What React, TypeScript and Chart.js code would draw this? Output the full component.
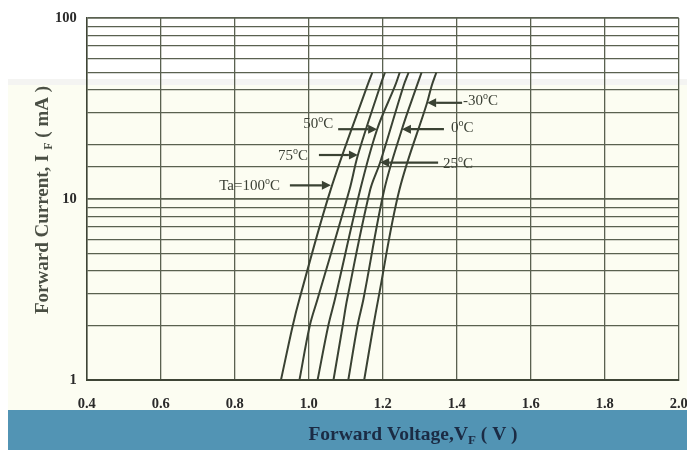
import React, { useEffect, useRef } from "react";
import { Chart, registerables } from "chart.js";

Chart.register(...registerables);

// ---- data ----
const X_MIN = 0.4;
const X_MAX = 2.0;
const X_STEP = 0.2;
const Y_MIN = 1;
const Y_MAX = 100;
const Y_LABELLED = [1, 10, 100];

const CURVE_NAMES = ["Ta=100", "75", "50", "25", "0", "-30"];

const I_T100 = [1, 2, 2.8, 11.2, 42, 50];
const V_T100 = [0.925, 0.957, 0.975, 1.059, 1.158, 1.172];

const I_T75 = [1, 2, 2.8, 11.2, 17.5, 42, 50];
const V_T75 = [0.975, 1.003, 1.024, 1.11, 1.133, 1.193, 1.206];

const I_T50 = [1, 2, 2.8, 11.2, 24.3, 42, 50];
const V_T50 = [1.024, 1.053, 1.071, 1.139, 1.185, 1.233, 1.246];

const I_T25 = [1, 2, 2.8, 11.2, 15.9, 42, 50];
const V_T25 = [1.067, 1.092, 1.104, 1.166, 1.193, 1.256, 1.27];

const I_T0 = [1, 2, 2.8, 11.2, 24.3, 42, 50];
const V_T0 = [1.107, 1.132, 1.148, 1.204, 1.252, 1.292, 1.305];

const I_TM30 = [1, 2, 2.8, 11.2, 34, 42, 50];
const V_TM30 = [1.15, 1.175, 1.188, 1.245, 1.32, 1.332, 1.345];

// arrow tips of the temperature labels (data coordinates)
const ANNOT_TEXT = ["Ta=100", "75", "50", "25", "0", "-30"];
const ANNOT_TIP_V = [1.06, 1.133, 1.185, 1.193, 1.252, 1.32];
const ANNOT_TIP_I = [11.9, 17.5, 24.3, 15.9, 24.3, 34];

// ---- styling / layout (not data) ----
const W = 687;
const H = 450;
const SERIF = "'Liberation Serif', 'Times New Roman', serif";
const GRID = "#5a6150";
const CURVE_COLOR = "#3a4233";
const LABEL_COLOR = "#3b4035";
// side: text on the left (L) or right (R) of the arrow; len = arrow length; gap; dy = text centre offset
const ANNOT_LAYOUT = [
  { side: "L", len: 41, gap: 10, dy: 0 },
  { side: "L", len: 39, gap: 11, dy: 0 },
  { side: "L", len: 39, gap: 5, dy: -6 },
  { side: "R", len: 58, gap: 5, dy: 0 },
  { side: "R", len: 42, gap: 7, dy: -2 },
  { side: "R", len: 35, gap: 1, dy: -3 },
];

const curves = [
  { i: I_T100, v: V_T100 },
  { i: I_T75, v: V_T75 },
  { i: I_T50, v: V_T50 },
  { i: I_T25, v: V_T25 },
  { i: I_T0, v: V_T0 },
  { i: I_TM30, v: V_TM30 },
];

function drawTempLabel(ctx: CanvasRenderingContext2D, text: string, x: number, yCenter: number, alignRight: boolean) {
  const main = `15px ${SERIF}`;
  const sup = `10px ${SERIF}`;
  ctx.font = main;
  const w1 = ctx.measureText(text).width;
  ctx.font = sup;
  const w2 = ctx.measureText("o").width;
  ctx.font = main;
  const w3 = ctx.measureText("C").width;
  const total = w1 + w2 + w3;
  let sx = alignRight ? x - total : x;
  const base = yCenter + 5;
  ctx.fillStyle = LABEL_COLOR;
  ctx.textAlign = "left";
  ctx.textBaseline = "alphabetic";
  ctx.font = main;
  ctx.fillText(text, sx, base);
  sx += w1;
  ctx.font = sup;
  ctx.fillText("o", sx, base - 6);
  sx += w2;
  ctx.font = main;
  ctx.fillText("C", sx, base);
}

function drawArrow(ctx: CanvasRenderingContext2D, tailX: number, tipX: number, y: number) {
  const dir = tipX > tailX ? 1 : -1;
  const head = 9;
  ctx.strokeStyle = CURVE_COLOR;
  ctx.fillStyle = CURVE_COLOR;
  ctx.lineWidth = 2.2;
  ctx.beginPath();
  ctx.moveTo(tailX, y);
  ctx.lineTo(tipX - dir * head, y);
  ctx.stroke();
  ctx.beginPath();
  ctx.moveTo(tipX, y);
  ctx.lineTo(tipX - dir * head, y - 4.5);
  ctx.lineTo(tipX - dir * head, y + 4.5);
  ctx.closePath();
  ctx.fill();
}

function drawSubTitle(
  ctx: CanvasRenderingContext2D,
  parts: { t: string; sub?: boolean }[],
  size: number,
  color: string
) {
  const mainF = `bold ${size}px ${SERIF}`;
  const subF = `bold ${Math.round(size * 0.65)}px ${SERIF}`;
  let total = 0;
  const widths = parts.map((p) => {
    ctx.font = p.sub ? subF : mainF;
    const w = ctx.measureText(p.t).width;
    total += w;
    return w;
  });
  let x = -total / 2;
  ctx.fillStyle = color;
  ctx.textAlign = "left";
  ctx.textBaseline = "middle";
  parts.forEach((p, k) => {
    ctx.font = p.sub ? subF : mainF;
    ctx.fillText(p.t, x, p.sub ? size * 0.3 : 0);
    x += widths[k];
  });
}

const decorPlugin = {
  id: "decor",
  beforeDraw(chart: any) {
    const ctx: CanvasRenderingContext2D = chart.ctx;
    ctx.save();
    ctx.fillStyle = "#ffffff";
    ctx.fillRect(0, 0, W, H);
    ctx.fillStyle = "#f4f4f2";
    ctx.fillRect(8, 79, W - 8, 6);
    ctx.fillStyle = "#fcfdf2";
    ctx.fillRect(8, 85, W - 8, 325);
    ctx.fillStyle = "#5294b4";
    ctx.fillRect(8, 410, W - 8, 40);
    ctx.restore();
  },
  afterDraw(chart: any) {
    const ctx: CanvasRenderingContext2D = chart.ctx;
    const xs = chart.scales.x;
    const ys = chart.scales.y;
    ctx.save();
    ANNOT_TEXT.forEach((txt, k) => {
      const lay = ANNOT_LAYOUT[k];
      const tipX = xs.getPixelForValue(ANNOT_TIP_V[k]);
      const tipY = ys.getPixelForValue(ANNOT_TIP_I[k]);
      if (lay.side === "L") {
        const tail = tipX - lay.len;
        drawArrow(ctx, tail, tipX, tipY);
        drawTempLabel(ctx, txt, tail - lay.gap, tipY + lay.dy, true);
      } else {
        const tail = tipX + lay.len;
        drawArrow(ctx, tail, tipX, tipY);
        drawTempLabel(ctx, txt, tail + lay.gap, tipY + lay.dy, false);
      }
    });
    ctx.restore();

    // y axis title
    ctx.save();
    ctx.translate(43, 200);
    ctx.rotate(-Math.PI / 2);
    drawSubTitle(
      ctx,
      [{ t: "Forward Current, I " }, { t: "F", sub: true }, { t: " ( mA )" }],
      19,
      "#4a4f44"
    );
    ctx.restore();

    // x axis title
    ctx.save();
    ctx.translate(413, 435);
    drawSubTitle(
      ctx,
      [{ t: "Forward Voltage,V" }, { t: "F", sub: true }, { t: " ( V )" }],
      19.5,
      "#1b2b44"
    );
    ctx.restore();
  },
};

export default function App() {
  const ref = useRef<HTMLCanvasElement | null>(null);

  useEffect(() => {
    const canvas = ref.current;
    if (!canvas) return;
    const datasets = curves.map((c, k) => ({
      label: CURVE_NAMES[k],
      data: c.v.map((v, j) => ({ x: v, y: c.i[j] })),
      showLine: true,
      borderColor: CURVE_COLOR,
      backgroundColor: CURVE_COLOR,
      borderWidth: 2,
      pointRadius: 0,
      tension: 0.35,
      fill: false,
    }));

    const chart = new Chart(canvas, {
      type: "scatter",
      data: { datasets },
      options: {
        responsive: false,
        animation: false,
        events: [],
        layout: { padding: { top: 18, right: 8.3, left: 0, bottom: 0 } },
        plugins: {
          legend: { display: false },
          tooltip: { enabled: false },
          title: { display: false },
        },
        scales: {
          x: {
            type: "linear",
            min: X_MIN,
            max: X_MAX,
            afterFit: (s: any) => {
              s.height = 70;
              s.paddingLeft = 0;
              s.paddingRight = 0;
            },
            ticks: {
              stepSize: X_STEP,
              autoSkip: false,
              maxRotation: 0,
              padding: 16,
              color: "#2a2a2a",
              font: { family: SERIF, size: 14.5, weight: "bold" },
              callback: (v: any) => Number(v).toFixed(1),
            },
            grid: { color: GRID, lineWidth: 1.3, drawTicks: false },
            border: { color: "#3e4536", width: 2 },
          },
          y: {
            type: "logarithmic",
            min: Y_MIN,
            max: Y_MAX,
            afterFit: (s: any) => {
              s.width = 86.7;
              s.paddingTop = 0;
              s.paddingBottom = 0;
            },
            ticks: {
              autoSkip: false,
              padding: 10,
              color: "#2a2a2a",
              font: { family: SERIF, size: 14.5, weight: "bold" },
              callback: (v: any) => (Y_LABELLED.includes(Number(v)) ? String(v) : ""),
            },
            grid: {
              color: GRID,
              lineWidth: (c: any) => (c.tick && Y_LABELLED.includes(Number(c.tick.value)) ? 1.8 : 1.3),
              drawTicks: false,
            },
            border: { color: "#3e4536", width: 1.5 },
          },
        },
      },
      plugins: [decorPlugin],
    } as any);

    return () => chart.destroy();
  }, []);

  return (
    <div style={{ position: "absolute", left: 0, top: 0, width: W, height: H }}>
      <canvas ref={ref} width={W} height={H} style={{ display: "block", width: W, height: H }} />
    </div>
  );
}
